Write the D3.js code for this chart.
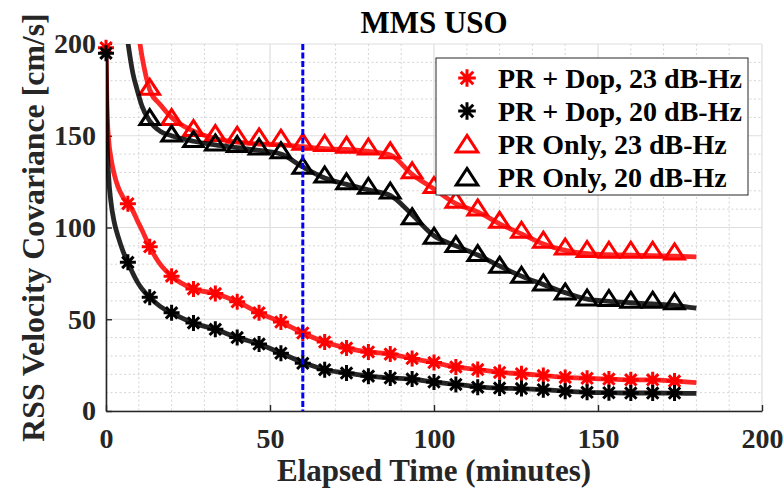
<!DOCTYPE html>
<html><head><meta charset="utf-8">
<script src="https://cdn.jsdelivr.net/npm/d3@7"></script>
<style>
html,body{margin:0;padding:0;background:#fff;}
svg{display:block;}
</style></head>
<body>
<svg id="chart" width="783" height="489"></svg>
<script>
// ---------------- DATA ----------------
const titleText = "MMS USO";
const xLabel = "Elapsed Time (minutes)";
const yLabel = "RSS Velocity Covariance [cm/s]";
const xTicks = [0, 50, 100, 150, 200];
const yTicks = [0, 50, 100, 150, 200];
const markerLine = 60; // vertical marker (minutes)

const seriesNames = ["PR + Dop, 23 dB-Hz", "PR + Dop, 20 dB-Hz", "PR Only, 23 dB-Hz", "PR Only, 20 dB-Hz"];

// marker times (minutes)
const markerTime = [0, 6.67, 13.33, 20, 26.67, 33.33, 40, 46.67, 53.33, 60, 66.67, 73.33, 80, 86.67,
  93.33, 100, 106.67, 113.33, 120, 126.67, 133.33, 140, 146.67, 153.33, 160, 166.67, 173.33];

const markDop23 = [198, 113, 89.5, 73.5, 66.5, 64, 59.5, 53.5, 48.5, 42.5, 37.6, 34.3, 32.2, 31,
  28.6, 26.4, 24, 22.6, 21, 20.3, 19.3, 18.3, 17.8, 17.4, 17, 17, 16.3];
const markDop20 = [195, 81, 62, 53.5, 48, 44.5, 40, 36.5, 31.5, 26, 22.5, 20.7, 19, 18,
  17.4, 15.8, 14.5, 13, 12.5, 12.2, 11.6, 10.8, 10.2, 10, 9.8, 9.8, 9.8];
const markOnly23 = [400, 260, 176.5, 160, 154, 151.3, 150.4, 149.5, 148.8, 146.6, 145.9, 145, 144, 141.9,
  131, 123, 115, 110.8, 104, 98.6, 93.2, 89.5, 88.1, 87.7, 87.7, 87.7, 86.8];
const markOnly20 = [400, 215, 160, 151, 148, 146.2, 145.3, 144, 142, 133.5, 128.7, 125, 122.6, 120,
  106, 95.4, 90.8, 85.9, 79.6, 74.1, 69.9, 65, 61.7, 61.4, 60.5, 60.5, 59.6];

// line sample times (minutes)
const lineTime = [0, 0.3, 0.8, 1.5, 2.5, 3.7, 5.2, 6.67, 8.2, 9.5, 11, 13.33, 16.5, 20, 26.67, 33.33,
  40, 46.67, 53.33, 60, 66.67, 73.33, 80, 86.67, 93.33, 100, 106.67, 113.33, 120, 126.67, 133.33,
  140, 146.67, 153.33, 160, 166.67, 173.33, 180];

const lineDop23 = [198, 165, 148, 138, 129, 122, 116.5, 113, 109, 104, 98.5, 89.5, 80, 73.5, 66.5, 64,
  59.5, 53.5, 48.5, 42.5, 37.6, 34.3, 32.2, 31, 28.6, 26.4, 24, 22.6, 21, 20.3, 19.3,
  18.3, 17.8, 17.4, 17, 17, 16.3, 15.5];
const lineDop20 = [195, 150, 128, 114, 103, 95, 87, 81, 75, 70.5, 66.5, 62, 57, 53.5, 48, 44.5,
  40, 36.5, 31.5, 26.5, 22.5, 20.7, 19, 18, 17.3, 15.8, 14.5, 13.2, 12.5, 12.2, 11.6,
  10.8, 10.2, 10, 9.8, 9.8, 9.7, 9.6];
const lineOnly23 = [null, null, null, null, null, null, null, null, 222, 210, 193, 175, 167, 160, 152.5, 148.5,
  146.5, 145.5, 145, 144, 143, 142.5, 141.5, 139.5, 129, 121, 113, 108.5, 102, 96.5, 91,
  87.5, 85.8, 85.2, 85, 84.7, 84.4, 84];
const lineOnly20 = [null, null, null, null, null, null, 222, 201, 184, 175, 166, 158, 152.5, 150, 147, 145,
  143.5, 142, 140, 133, 127, 123.5, 120.5, 117.5, 107, 95.5, 90, 85, 79, 73.5, 69,
  64.5, 61, 59.8, 59, 58.3, 57.6, 56];

const seriesColors = ["#ff0000", "#000000", "#ff0000", "#000000"];
const seriesMarkers = ["star", "star", "tri", "tri"];

// ---------------- CHART ----------------
const svg = d3.select("#chart");
const L = 106, R = 762, T = 44, B = 411;
const x = d3.scaleLinear().domain([0, 200]).range([L, R]);
const y = d3.scaleLinear().domain([0, 200]).range([B, T]);
const font = "'Liberation Serif','Times New Roman',serif";
const axisColor = "#262626";

// grid
const minor = d3.range(0, 201, 10).filter(v => v % 50 !== 0);
const gGrid = svg.append("g");
gGrid.selectAll(".vmin").data(minor).join("line")
  .attr("x1", d => x(d)).attr("x2", d => x(d)).attr("y1", T).attr("y2", B)
  .attr("stroke", "#d4d4d4").attr("stroke-width", 1).attr("stroke-dasharray", "2,2.5");
gGrid.selectAll(".hmin").data(minor).join("line")
  .attr("y1", d => y(d)).attr("y2", d => y(d)).attr("x1", L).attr("x2", R)
  .attr("stroke", "#d4d4d4").attr("stroke-width", 1).attr("stroke-dasharray", "2,2.5");
gGrid.selectAll(".vmaj").data(xTicks).join("line")
  .attr("x1", d => x(d)).attr("x2", d => x(d)).attr("y1", T).attr("y2", B)
  .attr("stroke", "#dedede").attr("stroke-width", 1.2);
gGrid.selectAll(".hmaj").data(yTicks).join("line")
  .attr("y1", d => y(d)).attr("y2", d => y(d)).attr("x1", L).attr("x2", R)
  .attr("stroke", "#dedede").attr("stroke-width", 1.2);

// axes
const xAxis = svg.append("g").attr("transform", `translate(0,${B})`)
  .call(d3.axisBottom(x).tickValues(xTicks).tickSizeInner(-6).tickSizeOuter(0).tickPadding(17).tickFormat(d3.format("d")));
const yAxis = svg.append("g").attr("transform", `translate(${L},0)`)
  .call(d3.axisLeft(y).tickValues(yTicks).tickSizeInner(-6).tickSizeOuter(0).tickPadding(10).tickFormat(d3.format("d")));
[xAxis, yAxis].forEach(g => {
  g.select(".domain").attr("stroke", axisColor).attr("stroke-width", 1.6);
  g.selectAll(".tick line").attr("stroke", axisColor).attr("stroke-width", 1.4);
  g.selectAll(".tick text").attr("fill", axisColor).style("font-family", font)
    .style("font-size", "28px").style("font-weight", "bold");
});

// clip
svg.append("clipPath").attr("id", "clip").append("rect")
  .attr("x", L).attr("y", T).attr("width", R - L).attr("height", B - T);

const starPath = "M-8,0L8,0M0,-8L0,8M-5.7,-5.7L5.7,5.7M-5.7,5.7L5.7,-5.7";
const triPath = "M0,-7.8L9.8,7.2L-9.8,7.2Z";

const lineData = [lineDop23, lineDop20, lineOnly23, lineOnly20];
const markData = [markDop23, markDop20, markOnly23, markOnly20];

const gen = d3.line().defined(d => d.v !== null)
  .x(d => x(d.t)).y(d => y(d.v)).curve(d3.curveMonotoneX);

seriesNames.forEach((name, i) => {
  const col = seriesColors[i];
  const pts = lineTime.map((t, j) => ({t, v: lineData[i][j]}));
  svg.append("path").datum(pts)
    .attr("clip-path", "url(#clip)")
    .attr("fill", "none").attr("stroke", col).attr("stroke-width", 4.8)
    .attr("stroke-opacity", 0.85).attr("stroke-linejoin", "round").attr("d", gen);
  const mpts = markerTime.map((t, j) => ({t, v: markData[i][j]})).filter(d => d.v <= 200);
  svg.append("g").selectAll("path").data(mpts).join("path")
    .attr("transform", d => `translate(${x(d.t)},${y(d.v)})`)
    .attr("d", seriesMarkers[i] === "star" ? starPath : triPath)
    .attr("fill", "none").attr("stroke", col)
    .attr("stroke-width", 3)
    .attr("stroke-linejoin", "miter");
});

// vertical marker line
svg.append("line")
  .attr("x1", x(markerLine)).attr("x2", x(markerLine)).attr("y1", y(200)).attr("y2", y(0))
  .attr("stroke", "#0000ff").attr("stroke-width", 3).attr("stroke-dasharray", "6,2.5");

// title and labels
svg.append("text").attr("x", (L + R) / 2).attr("y", 33).attr("text-anchor", "middle")
  .style("font-family", font).style("font-size", "31px").style("font-weight", "bold")
  .attr("fill", "#000").text(titleText);
svg.append("text").attr("x", (L + R) / 2).attr("y", 481).attr("text-anchor", "middle")
  .style("font-family", font).style("font-size", "31px").style("font-weight", "bold")
  .attr("fill", axisColor).text(xLabel);
svg.append("text").attr("transform", `translate(44,${(T + B) / 2}) rotate(-90)`).attr("text-anchor", "middle")
  .style("font-family", font).style("font-size", "31.8px").style("font-weight", "bold")
  .attr("fill", axisColor).text(yLabel);

// legend
const lg = svg.append("g");
lg.append("rect").attr("x", 436).attr("y", 58).attr("width", 312).attr("height", 137)
  .attr("fill", "#fff").attr("stroke", "#262626").attr("stroke-width", 1);
seriesNames.forEach((name, i) => {
  const cy = 78 + i * 33;
  lg.append("path").attr("transform", `translate(467,${cy}) scale(1.1)`)
    .attr("d", seriesMarkers[i] === "star" ? starPath : triPath)
    .attr("fill", "none").attr("stroke", seriesColors[i]).attr("stroke-width", 2.7);
  lg.append("text").attr("x", 498).attr("y", cy + 9.5)
    .style("font-family", font).style("font-size", "28px").style("font-weight", "bold")
    .attr("fill", "#000").text(name);
});
</script>
</body></html>
